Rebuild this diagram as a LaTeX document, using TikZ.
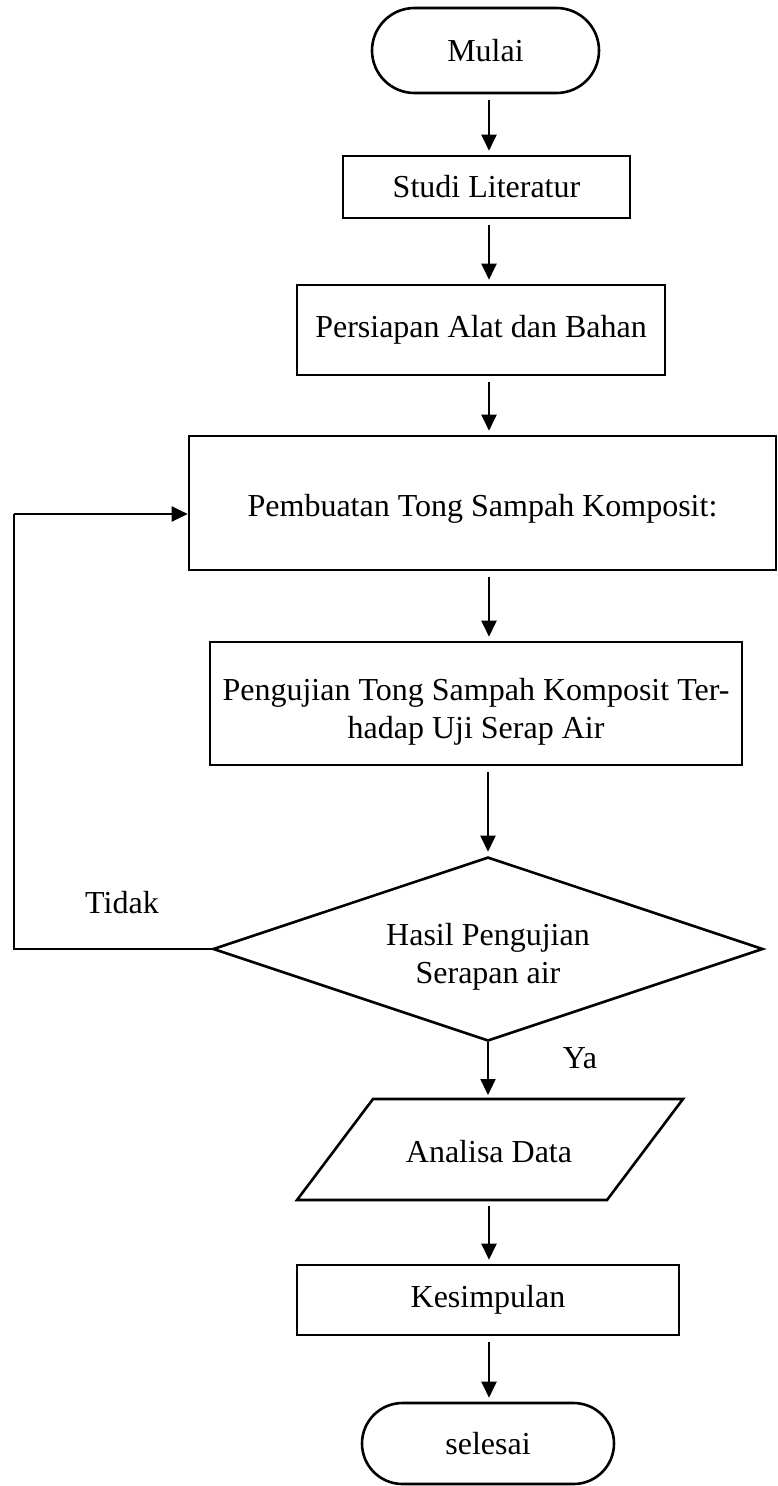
\documentclass[tikz,border=0pt]{standalone}
\usepackage{fontspec}
\setmainfont{Liberation Serif}
\usetikzlibrary{shapes.geometric,shapes.misc,arrows.meta}
\newcommand{\lowerby}[1]{\rule{0pt}{#1}}
\begin{document}
\begin{tikzpicture}[x=1pt,y=-1pt,
  base/.style={draw, line width=2.6pt, inner sep=0pt, font=\fontsize{32}{38}\selectfont, align=center},
  terminal/.style={base, rounded rectangle},
  procbox/.style={base, rectangle},
  decision/.style={base, diamond, aspect=3},
  shapeline/.style={line width=2.6pt, line join=miter},
  arr/.style={line width=2.2pt, -{Triangle[width=15pt,length=16pt]}, shorten <=6pt, shorten >=4pt},
  loopline/.style={line width=1.3pt},
  lbl/.style={font=\fontsize{32}{38}\selectfont, inner sep=0pt}
]
\useasboundingbox (0,0) rectangle (778,1486);
\coordinate (ax) at (489,0);

\node[terminal, minimum width=227pt, minimum height=85pt] (mulai) at (485.5,50.5) {Mulai};
\node[procbox, minimum width=287pt, minimum height=62pt] (studi) at (486.5,187) {Studi Literatur};
\node[procbox, minimum width=368pt, minimum height=90pt] (persiapan) at (481,330) {Persiapan Alat dan Bahan};
\node[procbox, minimum width=587pt, minimum height=134pt] (pembuatan) at (482.5,503) {\lowerby{33pt}Pembuatan Tong Sampah Komposit:};
\node[procbox, minimum width=532pt, minimum height=123pt] (pengujian) at (476,703.5) {\lowerby{38pt}Pengujian Tong Sampah Komposit Ter-\\hadap Uji Serap Air};
\node[decision, minimum width=550pt, minimum height=184pt] (hasil) at (488,949) {\lowerby{38pt}Hasil Pengujian\\Serapan air};

% parallelogram (input/output)
\coordinate (anBL) at (297,1200);
\coordinate (anTL) at (373,1099);
\coordinate (anTR) at (683,1099);
\coordinate (anBR) at (607,1200);
\draw[shapeline] (anBL) -- (anTL) -- (anTR) -- (anBR) -- cycle;
\coordinate (anTop) at (488,1099);
\coordinate (anBot) at (489,1200);
\node[lbl] (analisa) at (489,1152) {Analisa Data};

\node[procbox, minimum width=382pt, minimum height=70pt] (kesimpulan) at (488,1300) {Kesimpulan};
\node[terminal, minimum width=252pt, minimum height=81pt] (selesai) at (488,1443.5) {selesai};

\node[lbl] (tidak) at (122,903) {Tidak};
\node[lbl] (ya) at (580,1058) {Ya};

\draw[arr] (mulai.south -| ax) -- (studi.north -| ax);
\draw[arr] (studi.south -| ax) -- (persiapan.north -| ax);
\draw[arr] (persiapan.south -| ax) -- (pembuatan.north -| ax);
\draw[arr] (pembuatan.south -| ax) -- (pengujian.north -| ax);
\draw[arr] (pengujian.south -| hasil.north) -- (hasil.north);
\draw[arr, shorten <=0pt] (hasil.south) -- (anTop);
\draw[arr] (anBot) -- (kesimpulan.north -| anBot);
\draw[arr] (kesimpulan.south -| ax) -- (selesai.north -| ax);

\coordinate (lp) at (14,514);
\draw[loopline] (hasil.west) -| (lp);
\draw[arr, shorten <=0pt, shorten >=0pt, line width=2pt] (lp) -- (pembuatan.west |- lp);
\end{tikzpicture}
\end{document}
